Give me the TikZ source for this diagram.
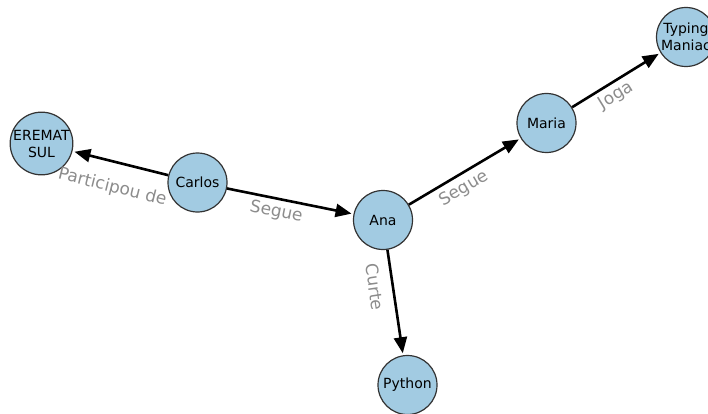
\documentclass[tikz,border=0pt]{standalone}
\usepackage{fontspec}
\setmainfont{DejaVu Sans}
\usetikzlibrary{arrows.meta}
\definecolor{nodeblue}{RGB}{162,203,226}
\definecolor{labelgray}{RGB}{140,140,140}
\begin{document}
\begin{tikzpicture}[x=1pt,y=-1pt,
  vert/.style={circle, draw=black!80, line width=1.2pt, fill=nodeblue, minimum size=59pt, inner sep=0pt, align=center, font=\fontsize{14}{17}\selectfont},
  rel/.style={line width=2.6pt, -{Triangle[length=16pt,width=13pt]}, shorten >=2pt},
  lab/.style={sloped, text=labelgray, font=\fontsize{17}{20}\selectfont, inner sep=0pt}]
\useasboundingbox (0,0) rectangle (708,414);
\node[vert] (nid0) at (197.5,182.5){Carlos};
\node[vert] (nid1) at (41.5,143.5){EREMAT\\SUL};
\node[vert] (nid2) at (383,220){Ana};
\node[vert] (nid3) at (546.5,123){Maria};
\node[vert] (nid4) at (686,37){Typing\\Maniac};
\node[vert] (nid5) at (407.5,385){Python};
\draw[rel](nid0) -- node[lab, pos=0.52, below=16pt]{Participou de} (nid1);
\draw[rel](nid0) -- node[lab, pos=0.41, below=4pt]{Segue} (nid2);
\draw[rel](nid2) -- node[lab, pos=0.43, below=5pt]{Segue} (nid3);
\draw[rel](nid3) -- node[lab, pos=0.42, below=4pt]{Joga} (nid4);
\draw[rel](nid2) -- node[lab, pos=0.33, below=10pt]{Curte} (nid5);
\end{tikzpicture}
\end{document}
